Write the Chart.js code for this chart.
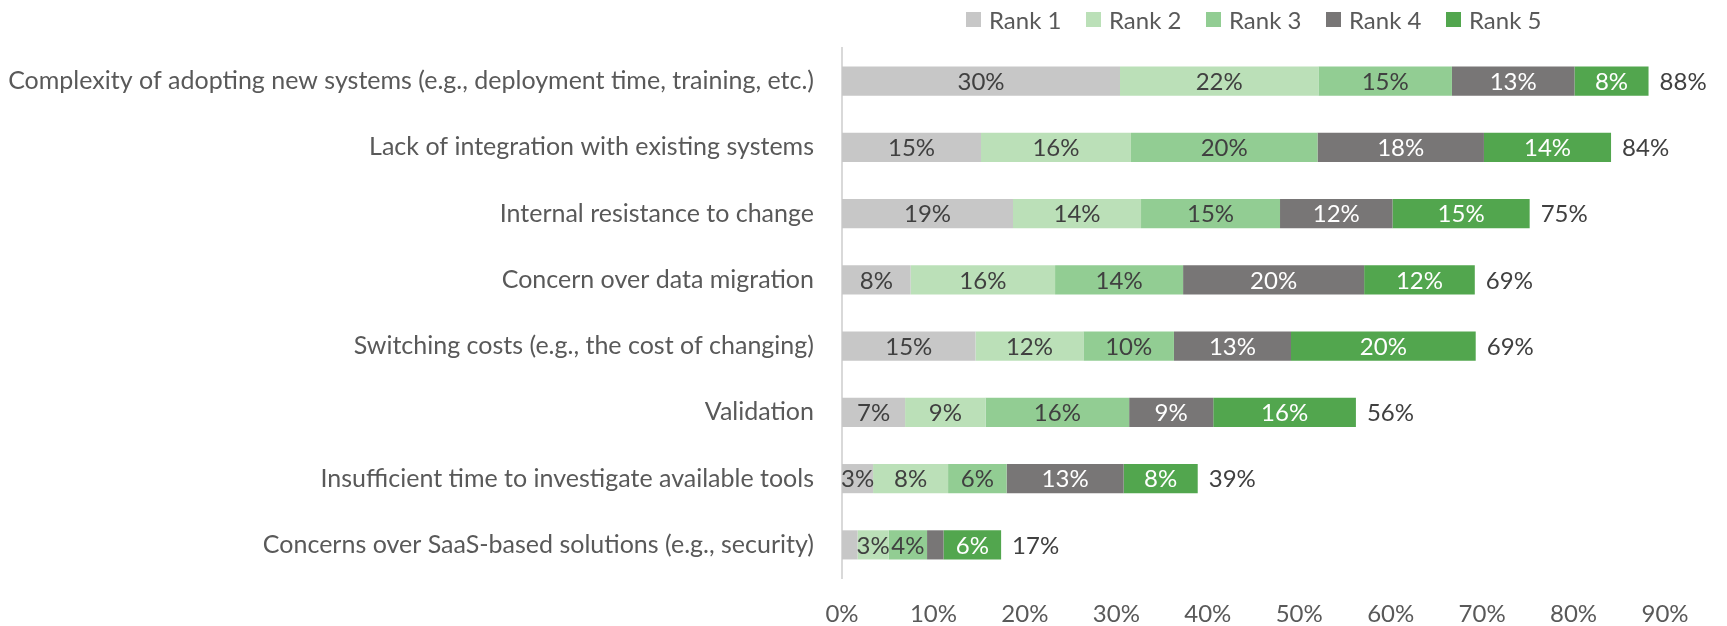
<!DOCTYPE html>
<html>
<head>
<meta charset="utf-8">
<script src="https://cdn.jsdelivr.net/npm/chart.js@4"></script>
<style>
  html, body { margin: 0; padding: 0; background: #fff; }
  #wrap { position: relative; width: 1727px; height: 626px; }
  #legend { position: absolute; top: 5px; left: 966px; display: flex; font-family: Lato, sans-serif; font-size: 24px; color: #595959; }
  #legend .item { display: flex; align-items: center; width: 120px; }
  #legend .box { width: 15px; height: 15px; margin-right: 8px; }
</style>
</head>
<body>
<div id="wrap">
  <canvas id="chart" width="1727" height="626"></canvas>
  <div id="legend"></div>
</div>
<script>
const categories = [
  'Complexity of adopting new systems (e.g., deployment time, training, etc.)',
  'Lack of integration with existing systems',
  'Internal resistance to change',
  'Concern over data migration',
  'Switching costs (e.g., the cost of changing)',
  'Validation',
  'Insufficient time to investigate available tools',
  'Concerns over SaaS-based solutions (e.g., security)'
];
const seriesNames = ['Rank 1', 'Rank 2', 'Rank 3', 'Rank 4', 'Rank 5'];
const rank1 = [30.4, 15.2, 18.7, 7.5, 14.6, 6.9, 3.4, 1.7];
const rank2 = [21.7, 16.4, 14.0, 15.8, 11.8, 8.8, 8.2, 3.4];
const rank3 = [14.6, 20.4, 15.2, 14.0, 9.9, 15.7, 6.4, 4.2];
const rank4 = [13.4, 18.2, 12.3, 19.8, 12.8, 9.2, 12.8, 1.8];
const rank5 = [8.1, 13.9, 15.0, 12.1, 20.2, 15.6, 8.1, 6.3];
const xTicks = [0, 10, 20, 30, 40, 50, 60, 70, 80, 90];

const colors = ['#c7c7c7', '#bbe0b8', '#92cd93', '#787676', '#52a64e'];
const labelColors = ['#404040', '#404040', '#404040', '#ffffff', '#ffffff'];
const fontFamily = 'Lato, sans-serif';

const allSeries = [rank1, rank2, rank3, rank4, rank5];

// html legend, placed over the plot like the original
const legendEl = document.getElementById('legend');
seriesNames.forEach((name, i) => {
  const item = document.createElement('div');
  item.className = 'item';
  item.innerHTML = '<span class="box" style="background:' + colors[i] + '"></span>' + name;
  legendEl.appendChild(item);
});

// segment labels and totals
const barLabels = {
  id: 'barLabels',
  afterDatasetsDraw(chart) {
    const ctx = chart.ctx;
    ctx.save();
    ctx.font = '24px ' + fontFamily;
    ctx.textBaseline = 'middle';
    chart.data.datasets.forEach((ds, di) => {
      const meta = chart.getDatasetMeta(di);
      meta.data.forEach((bar, i) => {
        const v = ds.data[i];
        if (v < 2) return;
        ctx.fillStyle = labelColors[di];
        ctx.textAlign = 'center';
        ctx.fillText(Math.round(v) + '%', (bar.x + bar.base) / 2, bar.y + 1);
      });
    });
    const last = chart.getDatasetMeta(chart.data.datasets.length - 1);
    last.data.forEach((bar, i) => {
      let total = 0;
      allSeries.forEach(s => total += s[i]);
      ctx.fillStyle = '#404040';
      ctx.textAlign = 'left';
      ctx.fillText(Math.round(total) + '%', bar.x + 11, bar.y + 1);
    });
    ctx.restore();
  }
};

new Chart(document.getElementById('chart'), {
  type: 'bar',
  data: {
    labels: categories,
    datasets: allSeries.map((s, i) => ({
      label: seriesNames[i],
      data: s,
      backgroundColor: colors[i],
      borderWidth: 0,
      barPercentage: 0.44,
      categoryPercentage: 1
    }))
  },
  options: {
    indexAxis: 'y',
    responsive: false,
    animation: false,
    layout: { padding: { top: 48, right: 62, left: 0, bottom: 0 } },
    plugins: {
      legend: { display: false },
      tooltip: { enabled: false }
    },
    scales: {
      x: {
        stacked: true,
        min: 0,
        max: 90,
        afterBuildTicks: (axis) => { axis.ticks = xTicks.map(v => ({ value: v })); },
        grid: { display: false },
        border: { display: false },
        ticks: {
          padding: 14,
          color: '#595959',
          font: { family: fontFamily, size: 24 },
          callback: (v) => v + '%'
        },
        afterFit: (axis) => { axis.height = 48; }
      },
      y: {
        stacked: true,
        grid: { display: false },
        border: { display: true, color: '#d9d9d9', width: 2 },
        ticks: {
          padding: 20,
          color: '#595959',
          font: { family: fontFamily, size: 25 }
        },
        afterFit: (axis) => { axis.width = 842; }
      }
    }
  },
  plugins: [barLabels]
});
</script>
</body>
</html>
